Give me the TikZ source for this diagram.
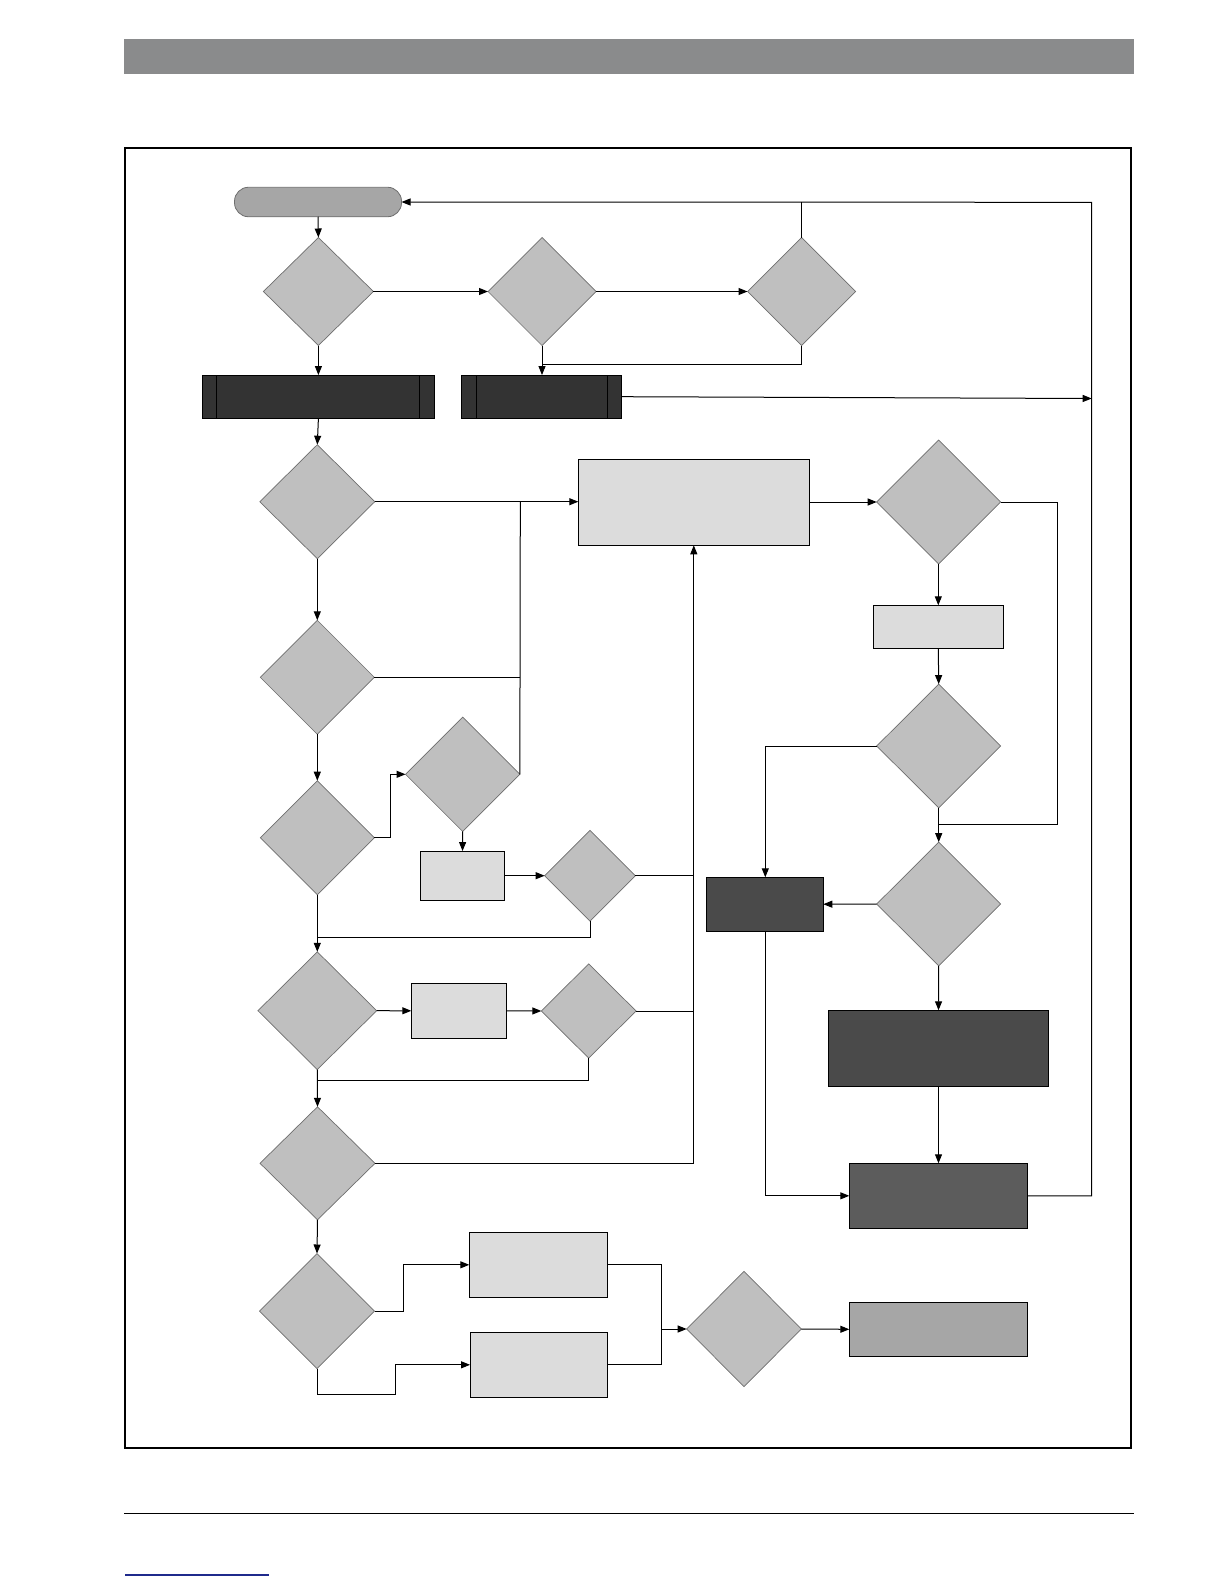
\documentclass[tikz,border=0pt]{standalone}
\usetikzlibrary{shapes.geometric,arrows.meta}
\definecolor{hdr}{HTML}{8A8B8C}
\definecolor{diafill}{HTML}{BFBFBF}
\definecolor{diaedge}{HTML}{6E6E6E}
\definecolor{lightfill}{HTML}{DCDCDC}
\definecolor{procfill}{HTML}{333333}
\definecolor{darkfill}{HTML}{4A4A4A}
\definecolor{midfill}{HTML}{5C5C5C}
\definecolor{endfill}{HTML}{A6A6A6}
\definecolor{termfill}{HTML}{A6A6A6}
\definecolor{linkblue}{HTML}{1F2A8C}
\begin{document}
\begin{tikzpicture}[x=1pt,y=-1pt,
  dia/.style={shape=diamond,draw=diaedge,fill=diafill,line width=0.7pt,inner sep=0pt,outer sep=0pt,aspect=1},
  box/.style={shape=rectangle,draw=black,line width=1pt,inner sep=0pt,outer sep=0pt},
  lbox/.style={box,fill=lightfill},
  pbox/.style={box,fill=procfill},
  dbox/.style={box,fill=darkfill},
  mbox/.style={box,fill=midfill},
  ebox/.style={box,fill=endfill},
  term/.style={shape=rectangle,rounded corners=14pt,draw=diaedge,fill=termfill,line width=0.8pt,inner sep=0pt,outer sep=0pt},
  conn/.style={draw=black,line width=1pt},
  arr/.style={conn,-{Triangle[length=9pt,width=7pt]}}
]
\useasboundingbox (0,0) rectangle (1224,1584);
% page furniture
\fill[hdr] (124,39) rectangle (1134,73.7);
\draw[line width=2.2pt] (125,148) rectangle (1131,1447.7);
\draw[line width=1pt] (124,1513.3) -- (1134,1513.3);
\draw[linkblue,line width=1.3pt] (125,1575) -- (269,1575);

% nodes
\node[term,minimum width=167pt,minimum height=29.5pt] (T) at (318,202) {};
\node[dia,minimum width=110pt,minimum height=108pt] (D1) at (318.4,291.5) {};
\node[dia,minimum width=108pt,minimum height=108pt] (D2) at (542,291.5) {};
\node[dia,minimum width=108pt,minimum height=108pt] (D3) at (801.5,291.5) {};
\node[pbox,minimum width=232pt,minimum height=43.3pt] (P1) at (318.4,396.7) {};
\node[pbox,minimum width=159.7pt,minimum height=43.3pt] (P2) at (541.3,396.7) {};
\draw[line width=0.8pt] ([xshift=14.2pt]P1.north west) -- ([xshift=14.2pt]P1.south west);
\draw[line width=0.8pt] ([xshift=-14.8pt]P1.north east) -- ([xshift=-14.8pt]P1.south east);
\draw[line width=0.8pt] ([xshift=14.8pt]P2.north west) -- ([xshift=14.8pt]P2.south west);
\draw[line width=0.8pt] ([xshift=-13.5pt]P2.north east) -- ([xshift=-13.5pt]P2.south east);

\node[dia,minimum width=115pt,minimum height=114pt] (D4) at (317.3,501.7) {};
\node[lbox,minimum width=231pt,minimum height=86pt] (A) at (693.8,502.3) {};
\node[dia,minimum width=114pt,minimum height=114pt] (D5) at (317.3,677.3) {};
\node[dia,minimum width=114pt,minimum height=114pt] (D6) at (317.3,837.7) {};
\node[dia,minimum width=114.3pt,minimum height=114.3pt] (D7) at (462.7,774.3) {};
\node[lbox,minimum width=84.4pt,minimum height=49.3pt] (B) at (462.5,875.7) {};
\node[dia,minimum width=90.7pt,minimum height=90.7pt] (D8) at (590,875.7) {};
\node[dia,minimum width=118.7pt,minimum height=117.7pt] (D9) at (317.3,1010.7) {};
\node[lbox,minimum width=95.4pt,minimum height=55pt] (C) at (459,1010.8) {};
\node[dia,minimum width=94.7pt,minimum height=94.3pt] (D10) at (588.7,1011) {};
\node[dia,minimum width=115pt,minimum height=113pt] (D11) at (317.5,1163.3) {};
\node[dia,minimum width=115pt,minimum height=115pt] (D12) at (317,1311) {};
\node[lbox,minimum width=138pt,minimum height=65pt] (D) at (538.3,1264.8) {};
\node[lbox,minimum width=137.3pt,minimum height=65pt] (E) at (538.7,1364.8) {};
\node[dia,minimum width=114.6pt,minimum height=115.4pt] (D13) at (744,1329) {};
\node[ebox,minimum width=178.4pt,minimum height=54pt] (F) at (938.5,1329.3) {};
\node[dia,minimum width=124pt,minimum height=124pt] (D14) at (938.7,502) {};
\node[lbox,minimum width=130pt,minimum height=43pt] (J) at (938.3,626.8) {};
\node[dia,minimum width=124pt,minimum height=123.7pt] (D15) at (938.7,746) {};
\node[dia,minimum width=124pt,minimum height=123.7pt] (D16) at (938.7,904) {};
\node[dbox,minimum width=117pt,minimum height=53.7pt] (I) at (764.8,904.2) {};
\node[dbox,minimum width=220.4pt,minimum height=76pt] (G) at (938.5,1048.3) {};
\node[mbox,minimum width=178.4pt,minimum height=65pt] (H) at (938.5,1195.8) {};

\coordinate (loopR) at (1091.7,202.3);
\coordinate (exitR) at (1091.7,398.5);
\coordinate (jA) at (520.3,501.7);
\coordinate (jB) at (693.8,875.7);
\coordinate (jDE) at (661.7,1329);
\coordinate (jD14) at (938.7,824.3);

% connectors
\draw[arr] (T.south) -- (D1.north);
\draw[arr] (D1.east) -- (D2.west);
\draw[arr] (D2.east) -- (D3.west);
\draw[conn] (D3.north) -- (D3.north |- loopR);
\draw[arr] (H.east) -- (loopR |- H.east) -- (loopR) -- (T.east);
\draw[conn] (D3.south) -- ++(0,18.5) -| (D2.south);
\draw[arr] (D2.south) -- (D2.south |- P2.north);
\draw[arr] (D1.south) -- (P1.north);
\draw[arr] (P2.east) -- (exitR);
\draw[arr] (P1.south) -- (D4.north);
\draw[arr] (D4.east) -- (A.west |- D4.east);
\draw[conn] (D5.east) -- (jA |- D5.east);
\draw[conn] (D7.east) -- (jA);
\draw[arr] (D4.south) -- (D5.north);
\draw[arr] (D5.south) -- (D6.north);
\draw[arr] (D6.east) -- (390.3,837.7) -- (390.3,774.3) -- (D7.west);
\draw[arr] (D7.south) -- (B.north);
\draw[arr] (B.east) -- (D8.west);
\draw[conn] (D8.east) -- (jB);
\draw[conn] (D10.east) -- (jB |- D10.east);
\draw[arr] (D11.east) -- (jB |- D11.east) -- (A.south);
\draw[conn] (D8.south) -- (590,937) -- (317.3,937);
\draw[arr] (D6.south) -- (D9.north);
\draw[arr] (D9.east) -- (C.west);
\draw[arr] (C.east) -- (D10.west);
\draw[conn] (D10.south) -- (588.7,1080.3) -- (317.3,1080.3);
\draw[arr] (D9.south) -- (D11.north);
\draw[arr] (D11.south) -- (D12.north);
\draw[arr] (D12.east) -- (403.3,1311) -- (403.3,1264.8) -- (D.west);
\draw[arr] (D12.south) -- (317,1394) -- (395.3,1394) -- (395.3,1364.8) -- (E.west);
\draw[conn] (D.east) -- (jDE |- D.east) -- (jDE |- E.east) -- (E.east);
\draw[arr] (jDE) -- (D13.west);
\draw[arr] (D13.east) -- (F.west);
\draw[arr] (A.east |- D14.west) -- (D14.west);
\draw[conn] (D14.east) -- (1057.3,502) -- (1057.3,824.3) -- (jD14);
\draw[arr] (D14.south) -- (938.7,586.7) -- (938.3,586.7) -- (J.north);
\draw[arr] (J.south) -- (D15.north);
\draw[arr] (D15.west) -- (765.3,746) -- (765.3,877.3);
\draw[arr] (D15.south) -- (D16.north);
\draw[arr] (D16.west) -- (I.east);
\draw[arr] (D16.south) -- (G.north);
\draw[arr] (G.south) -- (H.north);
\draw[arr] (I.south -| 765.3,0) -- (765.3,1195.8) -- (H.west);
\end{tikzpicture}
\end{document}
